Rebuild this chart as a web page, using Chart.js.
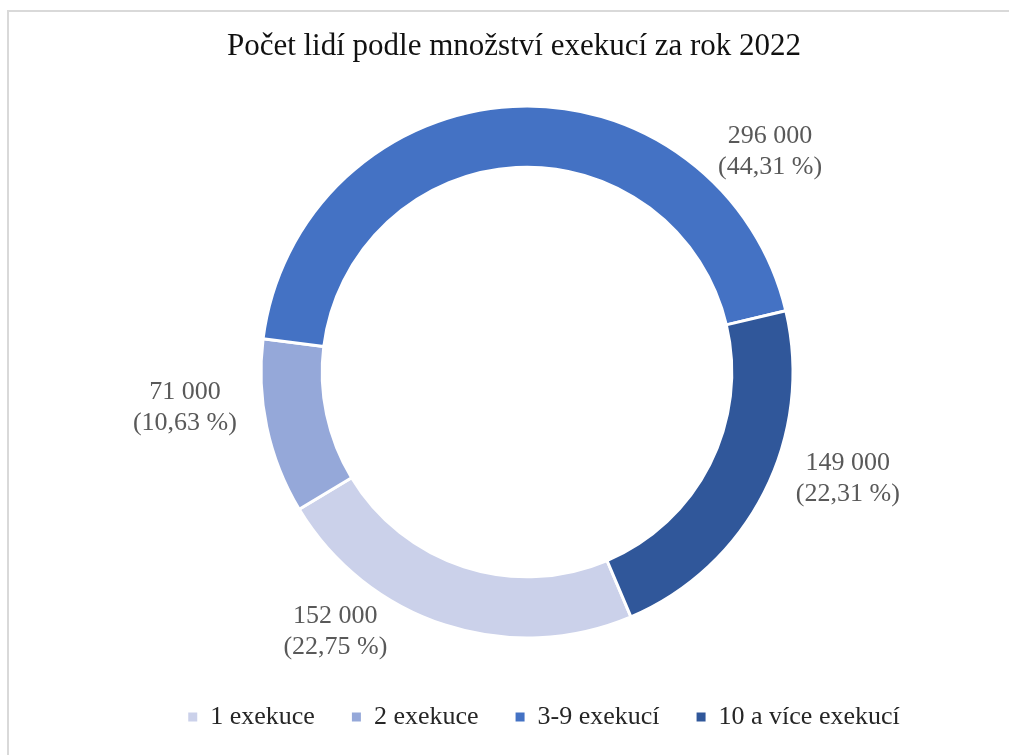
<!DOCTYPE html>
<html><head><meta charset="utf-8">
<script src="https://cdn.jsdelivr.net/npm/chart.js@4.4.1/dist/chart.umd.min.js"></script>
<style>
html,body{margin:0;padding:0;background:#fff;overflow:hidden;width:1009px;height:755px;}
#frame{position:absolute;left:7px;top:10px;width:1100px;height:800px;border:2px solid #d9d9d9;box-sizing:border-box;}
#wrap{position:absolute;left:0;top:0;width:1009px;height:755px;}
</style></head><body>
<div id="frame"></div>
<div id="wrap"><canvas id="c"></canvas></div>
<script>
const chartTitle = 'Počet lidí podle množství exekucí za rok 2022';
const categories = ['1 exekuce', '2 exekuce', '3-9 exekucí', '10 a více exekucí'];
const people = [152000, 71000, 296000, 149000];
const sliceColors = ['#CBD1EA', '#95A8D9', '#4472C4', '#30579A'];

const SERIF = '"Liberation Serif", "Times New Roman", serif';

function fmtNum(v) {
  return String(v).replace(/\B(?=(\d{3})+(?!\d))/g, ' ');
}

const titlePlugin = {
  id: 'customTitle',
  afterDraw(chart, args, opts) {
    const ctx = chart.ctx;
    ctx.save();
    ctx.font = opts.font;
    ctx.fillStyle = opts.color;
    ctx.textAlign = 'center';
    ctx.textBaseline = 'middle';
    ctx.fillText(opts.text, opts.x, opts.y);
    ctx.restore();
  }
};

const shiftPlugin = {
  id: 'areaShift',
  afterLayout(chart, args, opts) {
    chart.chartArea.left += opts.dx;
    chart.chartArea.right += opts.dx;
  }
};

const labelPlugin = {
  id: 'outerLabels',
  afterDatasetsDraw(chart, args, opts) {
    const meta = chart.getDatasetMeta(0);
    const data = chart.data.datasets[0].data;
    const total = data.reduce((a, b) => a + b, 0);
    const ctx = chart.ctx;
    ctx.save();
    ctx.font = opts.font;
    ctx.fillStyle = opts.color;
    ctx.textAlign = 'center';
    ctx.textBaseline = 'middle';
    meta.data.forEach((arc, i) => {
      const p = arc.getProps(['x', 'y', 'startAngle', 'endAngle', 'outerRadius'], true);
      const a = p.startAngle + (p.endAngle - p.startAngle) * opts.frac[i];
      const r = p.outerRadius + opts.gap[i];
      const cx = p.x + Math.cos(a) * r;
      const cy = p.y + Math.sin(a) * r;
      const l1 = fmtNum(data[i]);
      const l2 = '(' + (data[i] / total * 100).toFixed(2).replace('.', ',') + ' %)';
      ctx.fillText(l1, cx, cy - opts.lineHeight / 2);
      ctx.fillText(l2, cx, cy + opts.lineHeight / 2);
    });
    ctx.restore();
  }
};

new Chart(document.getElementById('c'), {
  type: 'doughnut',
  data: {
    labels: categories,
    datasets: [{
      data: people,
      backgroundColor: sliceColors,
      borderColor: '#ffffff',
      borderWidth: 3,
      hoverOffset: 0
    }]
  },
  plugins: [shiftPlugin, labelPlugin, titlePlugin],
  options: {
    responsive: true,
    maintainAspectRatio: false,
    animation: false,
    rotation: 157,
    cutout: '77%',
    radius: 266,
    layout: { padding: { top: 77, left: 79, right: 0, bottom: 15 } },
    plugins: {
      title: { display: false },
      tooltip: { enabled: false },
      legend: {
        position: 'bottom',
        labels: {
          boxWidth: 9,
          boxHeight: 9,
          padding: 37,
          color: '#262626',
          font: { family: SERIF, size: 26 },
          generateLabels(chart) {
            return Chart.overrides.doughnut.plugins.legend.labels.generateLabels(chart)
              .map(l => Object.assign(l, { lineWidth: 0 }));
          }
        }
      },
      areaShift: { dx: -17 },
      customTitle: { text: chartTitle, x: 514, y: 47, font: '31px ' + SERIF, color: '#111111' },
      outerLabels: {
        font: '26px ' + SERIF,
        color: '#595959',
        lineHeight: 31,
        frac: [0.725, 0.655, 0.819, 0.394],
        gap: [57, 78, 62, 72]
      }
    }
  }
});
</script>
</body></html>
